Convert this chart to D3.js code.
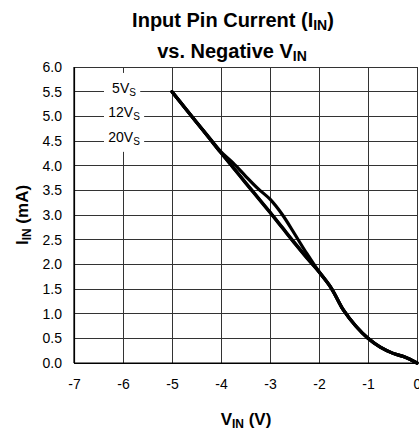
<!DOCTYPE html>
<html><head><meta charset="utf-8">
<script src="https://cdn.jsdelivr.net/npm/d3@7"></script>
<style>
body{margin:0;background:#fff;}
svg{display:block;font-family:Arial,"Liberation Sans",sans-serif;}
</style></head>
<body><div id="chart"></div>
<script>
const vin = [-5,-4.75,-4.5,-4.25,-4,-3.75,-3.5,-3.25,-3,-2.75,-2.5,-2.25,-2,-1.75,-1.5,-1.25,-1,-0.75,-0.5,-0.25,0];
const iin5V  = [5.5,5.19,4.88,4.57,4.26,3.96,3.65,3.35,3.05,2.74,2.43,2.13,1.85,1.52,1.07,0.75,0.5,0.32,0.2,0.12,0.0];
const iin12V = [5.5,5.19,4.88,4.57,4.26,3.96,3.66,3.36,3.06,2.75,2.44,2.14,1.85,1.52,1.07,0.75,0.5,0.32,0.2,0.12,0.0];
const iin20V = [5.5,5.19,4.88,4.58,4.28,4.05,3.79,3.54,3.32,3.01,2.62,2.22,1.85,1.52,1.07,0.75,0.5,0.32,0.2,0.12,0.0];
const seriesNames = ["5V","12V","20V"];
const xTicks = [-7,-6,-5,-4,-3,-2,-1,0];
const yTicks = [0,0.5,1,1.5,2,2.5,3,3.5,4,4.5,5,5.5,6];

const W = 419, H = 433;
const m = {l:74, r:2, t:67, b:70};
const FF = "Arial,'Liberation Sans',sans-serif";
const svg = d3.select("#chart").append("svg").attr("width",W).attr("height",H);
const x = d3.scaleLinear().domain([-7,0]).range([m.l, W-m.r]);
const y = d3.scaleLinear().domain([0,6]).range([H-m.b, m.t]);

// gridlines
const g = svg.append("g");
g.selectAll(".hg").data(yTicks).join("line")
  .attr("x1",m.l).attr("x2",W-m.r).attr("y1",d=>y(d)).attr("y2",d=>y(d))
  .attr("stroke","#333").attr("stroke-width",1).attr("shape-rendering","crispEdges");
g.selectAll(".vg").data(xTicks).join("line")
  .attr("y1",m.t).attr("y2",H-m.b).attr("x1",d=>x(d)).attr("x2",d=>x(d))
  .attr("stroke","#333").attr("stroke-width",1).attr("shape-rendering","crispEdges");

// axes
const xa = svg.append("g").attr("transform",`translate(0,${H-m.b})`)
  .call(d3.axisBottom(x).tickValues(xTicks).tickSize(0).tickPadding(16).tickFormat(d=>String(d)));
const ya = svg.append("g").attr("transform",`translate(${m.l},0)`)
  .call(d3.axisLeft(y).tickValues(yTicks).tickSize(0).tickPadding(12).tickFormat(d3.format(".1f")));
[xa,ya].forEach(a=>{
  a.selectAll("text").attr("font-size",14).attr("fill","#000").attr("font-family",FF);
  a.select(".domain").attr("stroke","#000").attr("stroke-width",1.2);
});
svg.append("line").attr("x1",m.l).attr("x2",m.l).attr("y1",m.t).attr("y2",H-m.b).attr("stroke","#000").attr("stroke-width",1.2);
svg.append("line").attr("x1",m.l).attr("x2",W-m.r).attr("y1",H-m.b).attr("y2",H-m.b).attr("stroke","#000").attr("stroke-width",1.2);

// legend (white boxes over grid)
const legY = [5.5,5.0,4.5];
const leg = svg.append("g");
leg.append("rect").attr("x",104).attr("y",y(5.88)).attr("width",36).attr("height",y(4.28)-y(5.88)).attr("fill","#fff");
seriesNames.forEach((n,i)=>{
  const t = leg.append("text").attr("x",124).attr("y",y(legY[i])+1).attr("text-anchor","middle")
    .attr("font-size",14).attr("fill","#000");
  t.append("tspan").text(n);
  t.append("tspan").attr("font-size",10).attr("dy",3).text("S");
  const bb = t.node().getBBox();
  leg.insert("rect","text").attr("x",bb.x-4).attr("y",bb.y-1).attr("width",bb.width+8).attr("height",bb.height+2).attr("fill","#fff");
});

// lines
const line = d3.line().x(d=>x(d[0])).y(d=>y(d[1])).curve(d3.curveCatmullRom.alpha(0.5));
[iin5V,iin12V,iin20V].forEach(s=>{
  svg.append("path").datum(vin.map((v,i)=>[v,s[i]])).attr("d",line)
    .attr("fill","none").attr("stroke","#000").attr("stroke-width",3.2).attr("stroke-linejoin","round").attr("stroke-linecap","round");
});

// titles
const t1 = svg.append("text").attr("x",233).attr("y",27).attr("text-anchor","middle").attr("font-size",20).attr("font-weight","bold");
t1.append("tspan").text("Input Pin Current (I");
t1.append("tspan").attr("font-size",14).attr("dy",3).text("IN");
t1.append("tspan").attr("dy",-3).text(")");
const t2 = svg.append("text").attr("x",232).attr("y",58).attr("text-anchor","middle").attr("font-size",20).attr("font-weight","bold");
t2.append("tspan").text("vs. Negative V");
t2.append("tspan").attr("font-size",14).attr("dy",3).text("IN");

const xt = svg.append("text").attr("x",246).attr("y",425).attr("text-anchor","middle").attr("font-size",17).attr("font-weight","bold");
xt.append("tspan").text("V");
xt.append("tspan").attr("font-size",12).attr("dy",3).text("IN");
xt.append("tspan").attr("dy",-3).text(" (V)");

const yt = svg.append("text").attr("transform",`translate(28,${(m.t+H-m.b)/2}) rotate(-90)`).attr("text-anchor","middle").attr("font-size",17).attr("font-weight","bold");
yt.append("tspan").text("I");
yt.append("tspan").attr("font-size",12).attr("dy",3).text("IN");
yt.append("tspan").attr("dy",-3).text(" (mA)");
</script></body></html>
